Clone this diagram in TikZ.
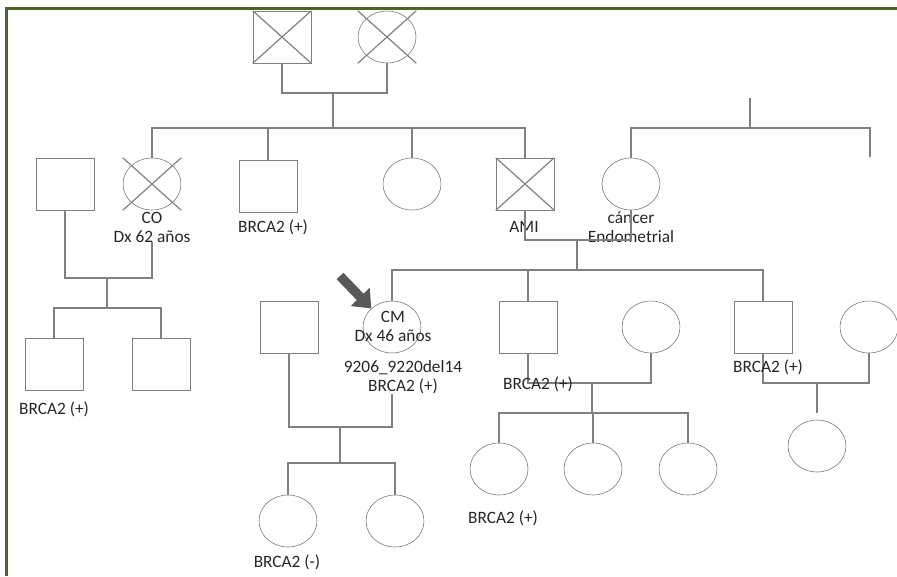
\documentclass[tikz,border=0pt]{standalone}
\usepackage{fontspec}
\setmainfont{Carlito}
\usetikzlibrary{shapes.geometric, arrows.meta, positioning, calc}
\definecolor{framegreen}{HTML}{4F6228}
\definecolor{linegray}{HTML}{808080}
\definecolor{arrowgray}{HTML}{595959}
\definecolor{txtgray}{HTML}{262626}
\tikzstyle{male} = [draw=linegray, rectangle, minimum width=43.5pt, minimum height=39pt, inner sep=0pt]
\tikzstyle{female} = [draw=linegray!85!black, ellipse, minimum width=43.5pt, minimum height=39pt, inner sep=0pt]
\tikzstyle{pedline} = [draw=linegray, line width=0.9pt]
\tikzstyle{lbl} = [font=\fontsize{13}{14.25}\selectfont, text=txtgray, align=center, inner sep=0pt]
\tikzstyle{probarrow} = [draw=arrowgray, line width=7pt, -{Triangle[width=19pt,length=12pt]}]
\newcommand{\deceased}[1]{\draw[pedline] (#1.west |- #1.north) -- (#1.east |- #1.south) (#1.west |- #1.south) -- (#1.east |- #1.north);}

\begin{document}
\begin{tikzpicture}[x=0.75pt, y=-0.75pt]
        \useasboundingbox (0,0) rectangle (897,576);

        % Frame
        \draw[framegreen, line width=2.5pt] (6.5,576) -- (6.5,8.5) -- (897,8.5);

        % Generation I
        \node[male] (gf) at (282,37) {};
        \node[female] (gm) at (387,37) {};
        \deceased{gf}
        \deceased{gm}
        \coordinate (m1) at (333,93);
        \coordinate (s1) at (333,128);
        \draw[pedline] (gf.south) |- (m1) -| (gm.south);
        \draw[pedline] (m1) -- (s1);

        % Generation II
        \node[male] (cosp) at (65,184) {};
        \node[female] (co) at (152,184) {};
        \node[male] (br1) at (268,186) {};
        \node[female] (aunt) at (412,184) {};
        \node[male] (ami) at (525,184) {};
        \node[female] (endo) at (631,184) {};
        \deceased{co}
        \deceased{ami}
        \node[lbl] (colbl) at (152,227) {CO\\Dx 62 años};
        \node[lbl] (br1lbl) at (273,227) {BRCA2 (+)};
        \node[lbl] (amilbl) at (524,227) {AMI};
        \node[lbl] (endolbl) at (631,227) {cáncer\\Endometrial};
        \draw[pedline] (co.north) |- (s1) -| (ami.north);
        \foreach \n in {br1, aunt}
        \draw[pedline] (\n.north) -- (\n.north |- s1);

        % Sibship of cancer Endometrial
        \coordinate (m7) at (750,98);
        \coordinate (s7) at (750,128);
        \coordinate (sibend) at (870,157);
        \draw[pedline] (m7) -- (s7);
        \draw[pedline] (endo.north) |- (s7) -| (sibend);

        % Family of CO
        \coordinate (m2) at (107,278);
        \coordinate (s2) at (107,308);
        \draw[pedline] (cosp.south) |- (m2) -| (colbl.south);
        \draw[pedline] (m2) -- (s2);
        \node[male] (c1) at (54,364) {};
        \node[male] (c2) at (161,364) {};
        \draw[pedline] (c1.north) |- (s2) -| (c2.north);
        \node[lbl] (c1lbl) at (54,409) {BRCA2 (+)};

        % Couple AMI / cancer Endometrial
        \coordinate (m3) at (577,240);
        \coordinate (s3) at (577,270);
        \draw[pedline] (ami.south) |- (m3) -| (endo.south);
        \draw[pedline] (m3) -- (s3);

        % Generation III
        \node[male] (cmsp) at (289,327) {};
        \node[female] (cm) at (392,327) {};
        \node[lbl] (cmtxt) at (393,326) {CM\\Dx 46 años};
        \node[lbl] (cmlbl) at (403,377) {9206\_9220del14\\BRCA2 (+)};
        \node[male] (br2) at (528,327) {};
        \node[female] (br2sp) at (651,327) {};
        \node[male] (br3) at (763,327) {};
        \node[female] (br3sp) at (869,327) {};
        \draw[pedline] (cm.north) |- (s3) -| (br3.north);
        \draw[pedline] (br2.north) -- (br2.north |- s3);

        % Proband
        \coordinate (pa) at (340,276);
        \draw[probarrow] (pa) -- (cm.north west);

        % Family of CM
        \coordinate (m4) at (340,427);
        \coordinate (s4) at (340,463);
        \draw[pedline] (cmsp.south) |- (m4) -| (cm.south |- cmlbl.south);
        \draw[pedline] (m4) -- (s4);
        \node[female] (d1) at (288,521) {};
        \node[female] (d2) at (395,521) {};
        \draw[pedline] (d1.north) |- (s4) -| (d2.north);
        \node[lbl] (d1lbl) at (287,562) {BRCA2 (-)};

        % Family of second BRCA2 (+)
        \coordinate (m5) at (592,383);
        \coordinate (s5) at (592,413);
        \draw[pedline] (br2.south) |- (m5) -| (br2sp.south);
        \node[lbl] (br2lbl) at (538,384) {BRCA2 (+)};
        \draw[pedline] (m5) -- (s5);
        \node[female] (e1) at (499,469) {};
        \node[female] (e2) at (593,469) {};
        \node[female] (e3) at (688,469) {};
        \draw[pedline] (e1.north) |- (s5) -| (e3.north);
        \draw[pedline] (e2.north) -- (e2.north |- s5);
        \node[lbl] (e1lbl) at (503,518) {BRCA2 (+)};

        % Family of third BRCA2 (+)
        \coordinate (m6) at (817,383);
        \coordinate (s6) at (817,413);
        \draw[pedline] (br3.south) |- (m6) -| (br3sp.south);
        \node[lbl] (br3lbl) at (768,367) {BRCA2 (+)};
        \draw[pedline] (m6) -- (s6);
        \node[female] (f1) at (817,446) {};
      \end{tikzpicture}
\end{document}
